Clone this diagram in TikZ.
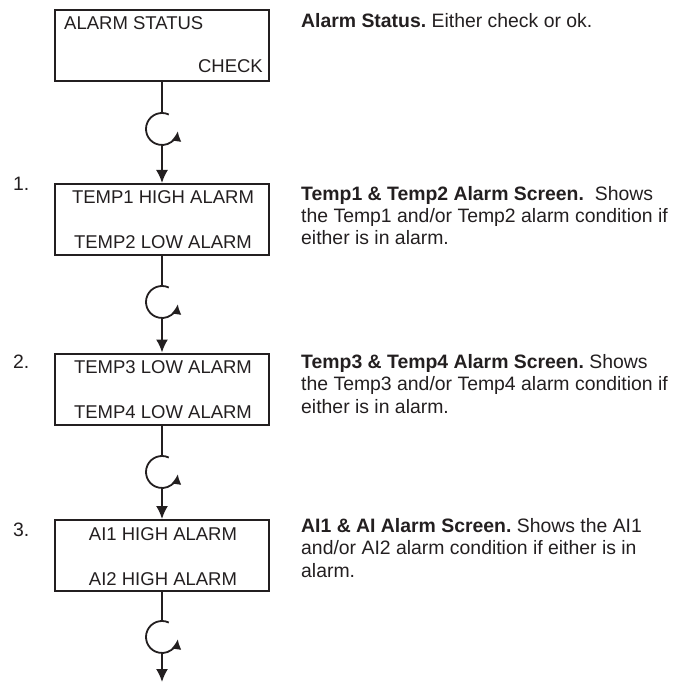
\documentclass[tikz,border=0pt]{standalone}
\usepackage{fontspec}
\setmainfont{Liberation Sans}
\usetikzlibrary{arrows.meta}
\definecolor{ink}{RGB}{35,31,32}
\frenchspacing
\begin{document}
\begin{tikzpicture}[x=1pt,y=-1pt,
  box/.style={draw=ink, line width=2pt, minimum width=214pt, minimum height=71pt, inner sep=0pt},
  btxt/.style={font=\fontsize{18.5}{22}\selectfont, inner sep=0pt, text=ink},
  rtxt/.style={font=\fontsize{19.4}{22.5}\selectfont, inner sep=0pt, anchor=base west, align=left, text=ink},
  conn/.style={draw=ink, line width=1.8pt},
  tipd/.style={-{Latex[length=13pt,width=12pt]}},
  tipc/.style={-{Latex[length=10pt,width=10pt]}}
  ]
\useasboundingbox (0,0) rectangle (697,682);
% boxes
\node[box] (b0) at (162,45.5) {};
\node[box] (b1) at (162,219.5) {};
\node[box] (b2) at (162,389) {};
\node[box] (b3) at (162,555.5) {};
% box texts
\node[btxt, anchor=base west] (t0a) at (64,30) {ALARM STATUS};
\node[btxt, anchor=base east] (t0b) at (263,73) {CHECK};
\node[btxt, anchor=base] (t1a) at (163,204) {TEMP1 HIGH ALARM};
\node[btxt, anchor=base] (t1b) at (163,249) {TEMP2 LOW ALARM};
\node[btxt, anchor=base] (t2a) at (163,373) {TEMP3 LOW ALARM};
\node[btxt, anchor=base] (t2b) at (163,418) {TEMP4 LOW ALARM};
\node[btxt, anchor=base] (t3a) at (163,540) {AI1 HIGH ALARM};
\node[btxt, anchor=base] (t3b) at (163,585) {AI2 HIGH ALARM};
% numbers
\node[rtxt] (n1) at (13,191) {1.};
\node[rtxt] (n2) at (13,368) {2.};
\node[rtxt] (n3) at (13,536) {3.};
% descriptions (anchor is baseline of last line)
\node[rtxt] (d0) at (301,28) {\textbf{Alarm Status.} Either check or ok.};
\node[rtxt] (d1) at (301,245) {\textbf{Temp1 \& Temp2 Alarm Screen.}\ \ Shows\\the Temp1 and/or Temp2 alarm condition if\\either is in alarm.};
\node[rtxt] (d2) at (301,413) {\textbf{Temp3 \& Temp4 Alarm Screen.} Shows\\the Temp3 and/or Temp4 alarm condition if\\either is in alarm.};
\node[rtxt] (d3) at (301,577) {\textbf{AI1 \& AI Alarm Screen.} Shows the AI1\\and/or AI2 alarm condition if either is in\\alarm.};
% loop circles
\foreach \i/\cy in {0/129,1/302,2/472,3/637}{
  \coordinate (c\i) at (162,\cy);
  \coordinate (c\i t) at (162,\cy-16);
  \coordinate (c\i b) at (162,\cy+16);
  \draw[conn, tipc] ([shift={(65:16pt)}]c\i) arc[start angle=65, end angle=352, radius=16pt];
}
\coordinate (end) at (162,682);
% connectors
\draw[conn] (b0.south) -- (c0t);
\draw[conn, tipd] (c0b) -- (b1.north);
\draw[conn] (b1.south) -- (c1t);
\draw[conn, tipd] (c1b) -- (b2.north);
\draw[conn] (b2.south) -- (c2t);
\draw[conn, tipd] (c2b) -- (b3.north);
\draw[conn] (b3.south) -- (c3t);
\draw[conn, tipd] (c3b) -- (end);
\end{tikzpicture}
\end{document}
